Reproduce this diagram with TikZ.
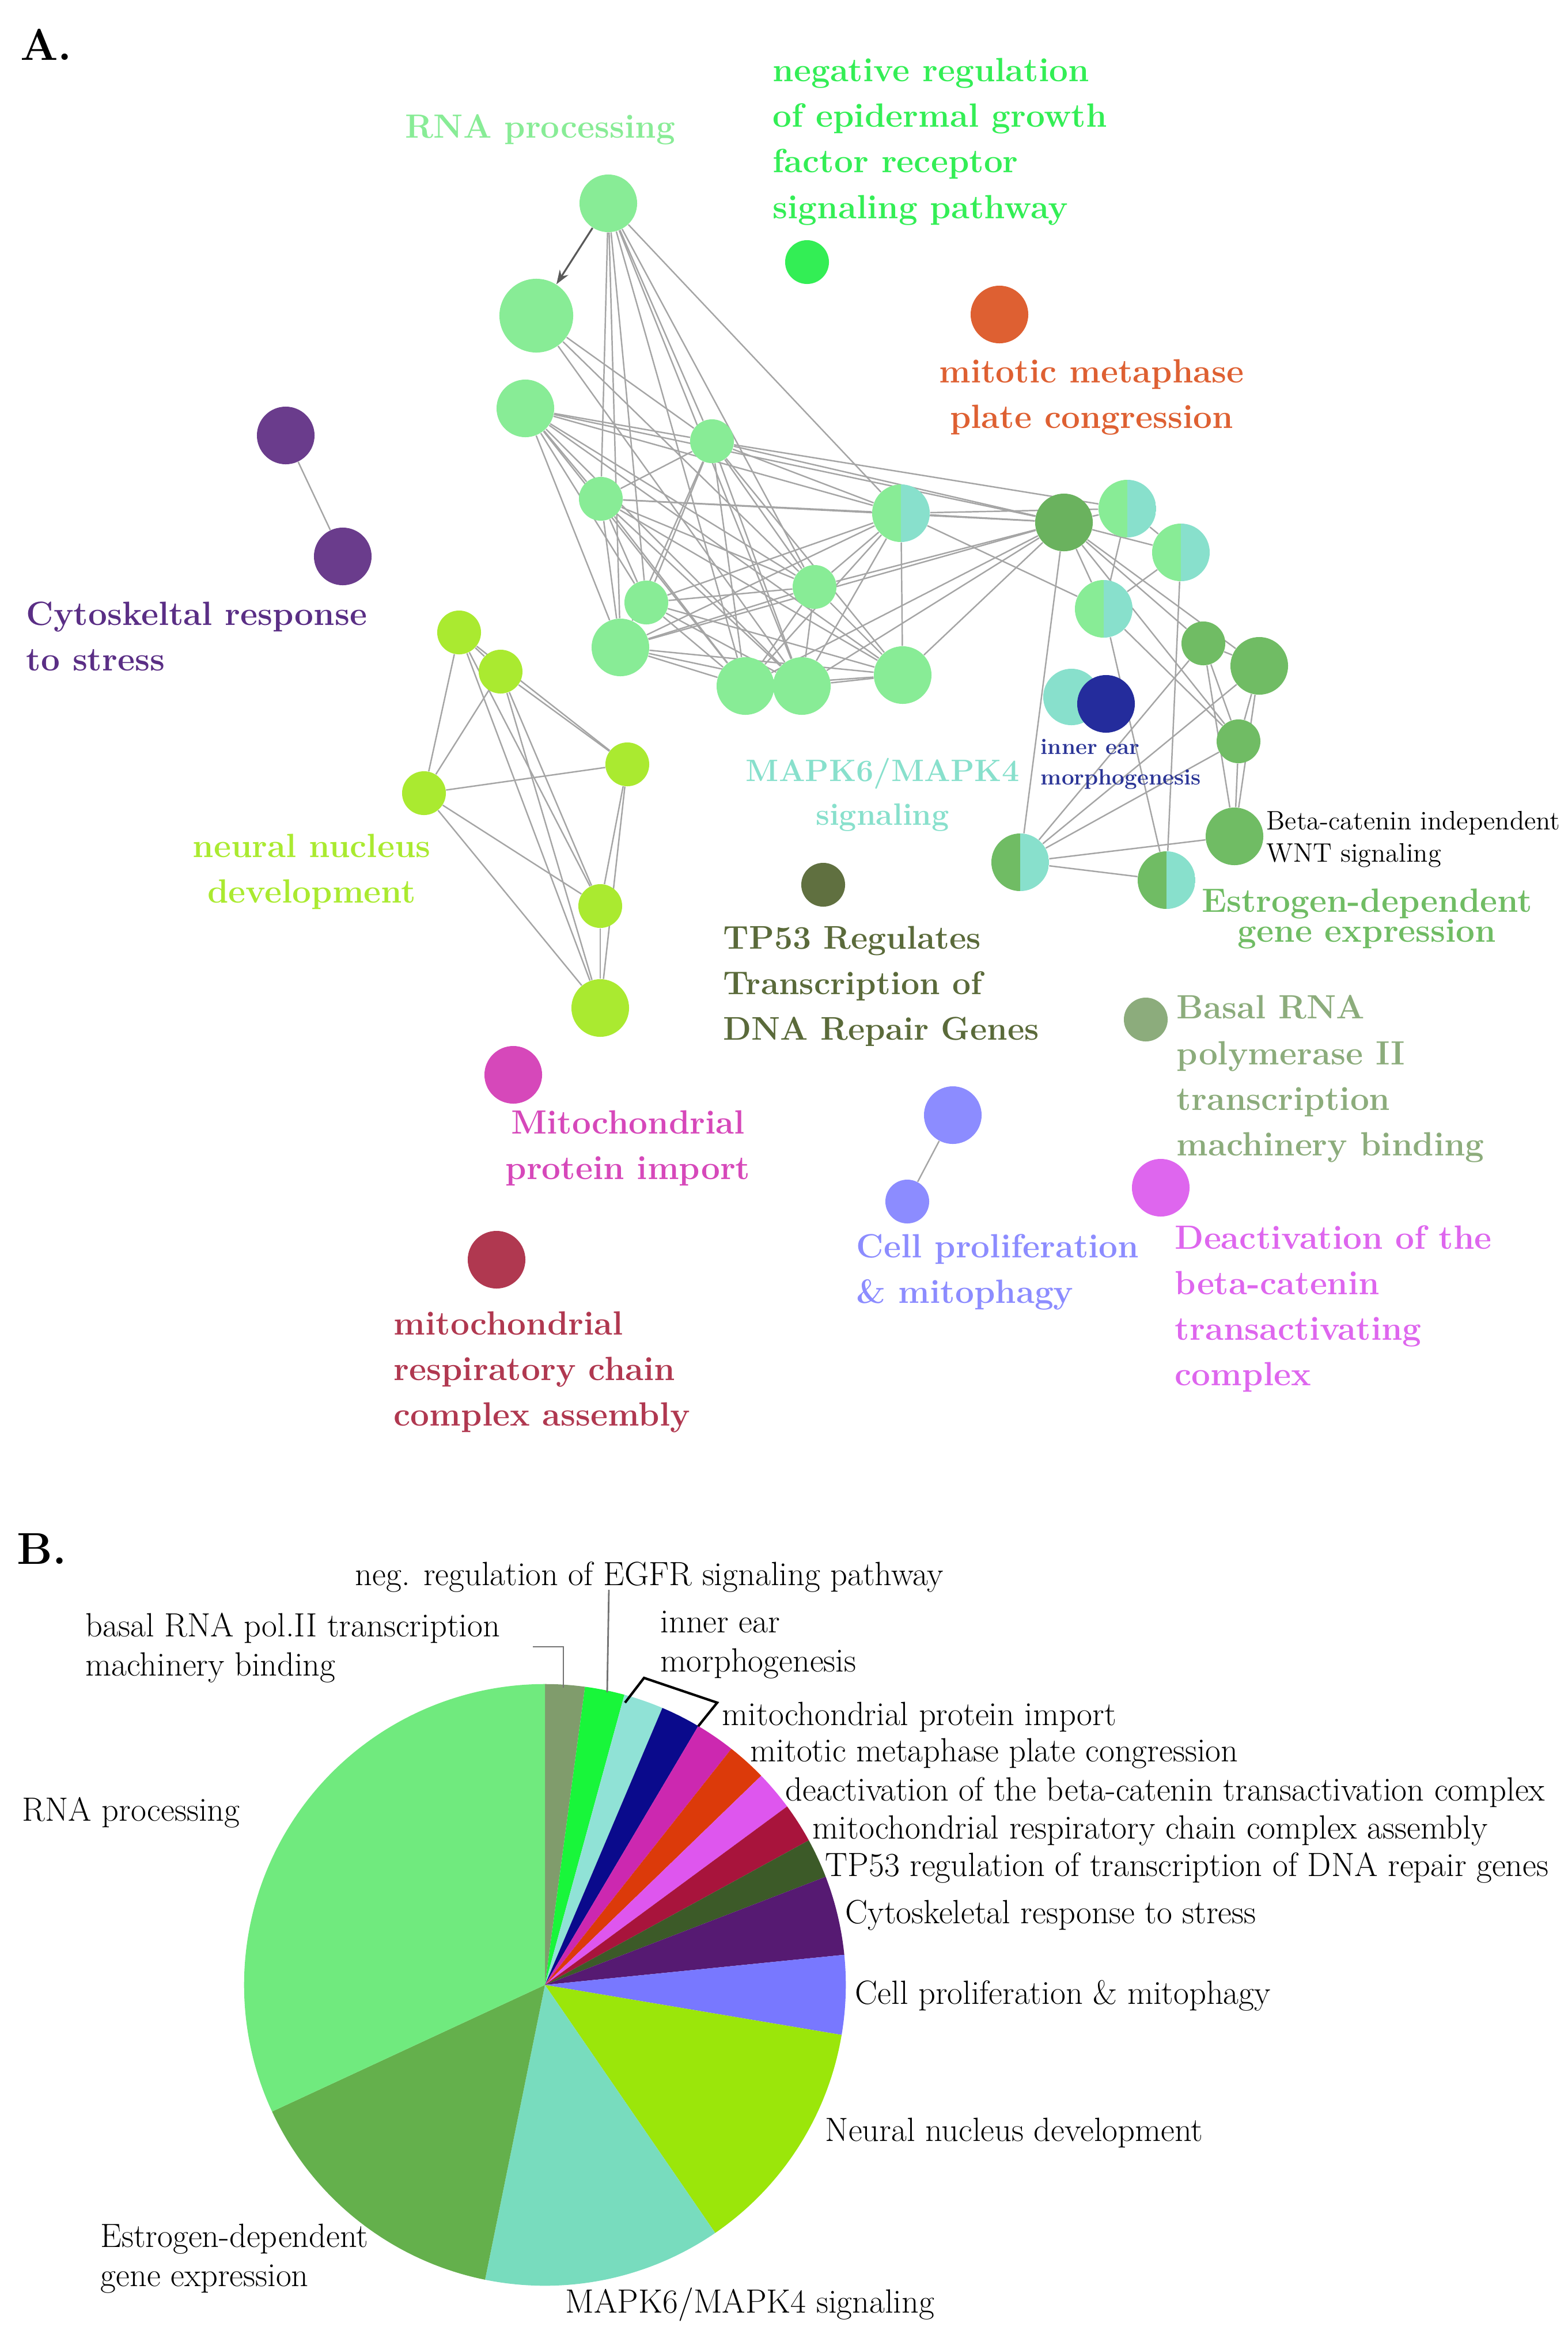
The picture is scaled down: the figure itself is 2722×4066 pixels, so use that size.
\documentclass[tikz,border=0pt]{standalone}
\usetikzlibrary{arrows.meta}
\usetikzlibrary{backgrounds}

\definecolor{rnacol}{RGB}{136,236,150}
\definecolor{tealcol}{RGB}{136,224,204}
\definecolor{estcol}{RGB}{112,188,100}
\definecolor{hubcol}{RGB}{106,178,94}
\definecolor{neurcol}{RGB}{170,234,48}
\definecolor{purpcol}{RGB}{106,60,140}
\definecolor{negcol}{RGB}{51,238,85}
\definecolor{mitocol}{RGB}{222,96,50}
\definecolor{tpcol}{RGB}{96,112,64}
\definecolor{basalcol}{RGB}{140,172,124}
\definecolor{cellcol}{RGB}{140,140,255}
\definecolor{deactcol}{RGB}{222,102,238}
\definecolor{mpcol}{RGB}{214,72,186}
\definecolor{mrcol}{RGB}{176,56,80}
\definecolor{earcol}{RGB}{36,44,156}
\definecolor{edgecol}{RGB}{165,165,165}
\definecolor{purptext}{RGB}{90,46,133}
\definecolor{tptext}{RGB}{90,106,58}
\definecolor{eartext}{RGB}{42,52,150}

\definecolor{piebasal}{RGB}{128,156,108}
\definecolor{pieneg}{RGB}{24,246,58}
\definecolor{pieear}{RGB}{144,226,214}
\definecolor{pienavy}{RGB}{10,10,140}
\definecolor{piemp}{RGB}{204,40,176}
\definecolor{piemito}{RGB}{220,58,10}
\definecolor{piedeact}{RGB}{222,86,238}
\definecolor{piemr}{RGB}{168,20,60}
\definecolor{pietp}{RGB}{60,90,40}
\definecolor{piecyto}{RGB}{86,26,114}
\definecolor{piecell}{RGB}{120,120,255}
\definecolor{pieneur}{RGB}{155,230,10}
\definecolor{piemapk}{RGB}{120,220,190}
\definecolor{pieest}{RGB}{100,176,76}
\definecolor{pierna}{RGB}{112,234,126}

\begin{document}
\begin{tikzpicture}[x=0.01cm, y=-0.01cm,
    dot/.style={circle, inner sep=0pt, fill=#1},
    big/.style={minimum size=1cm},
    small/.style={minimum size=0.76cm},
    split/.style 2 args={circle, inner sep=0pt, minimum size=1cm,
      path picture={\fill[#1] (path picture bounding box.south west) rectangle (path picture bounding box.north);
        \fill[#2] (path picture bounding box.north) rectangle (path picture bounding box.south east);}},
    go edge/.style={draw=edgecol, line width=0.7pt},
    lab/.style={font=\bfseries\fontsize{16.6}{22.5}\selectfont, inner sep=0pt},
    pie lab/.style={font=\fontsize{16.6}{19.3}\selectfont, inner sep=0pt, anchor=west, align=left}]

    \useasboundingbox (0,0) rectangle (2722,4066);

    % A. network
    \node[font=\bfseries\fontsize{22}{26}\selectfont] (titleA) at (80,77) {A.};

    % RNA processing cluster
    \node[dot=rnacol, big] (r1) at (1056,353) {};
    \node[dot=rnacol, minimum size=1.28cm] (r2) at (931,548) {};
    \node[dot=rnacol, big] (r3) at (912,709) {};
    \node[dot=rnacol, small] (r4) at (1236,766) {};
    \node[dot=rnacol, small] (r5) at (1043,866) {};
    \node[split={rnacol}{tealcol}] (r6) at (1564,891) {};
    \node[dot=rnacol, small] (r7) at (1122,1046) {};
    \node[dot=rnacol, small] (r8) at (1414,1019) {};
    \node[dot=rnacol, big] (r9) at (1077,1124) {};
    \node[dot=rnacol, big] (r10) at (1294,1191) {};
    \node[dot=rnacol, big] (r11) at (1392,1191) {};
    \node[dot=rnacol, big] (r12) at (1567,1172) {};

    % estrogen / MAPK cluster
    \node[dot=hubcol, big] (hub) at (1847,907) {};
    \node[split={rnacol}{tealcol}] (s2) at (1957,883) {};
    \node[split={rnacol}{tealcol}] (s3) at (2050,959) {};
    \node[split={rnacol}{tealcol}] (s4) at (1916,1057) {};
    \node[dot=estcol, small] (e1) at (2089,1117) {};
    \node[dot=estcol, big] (e2) at (2186,1156) {};
    \node[dot=estcol, small] (e3) at (2150,1287) {};
    \node[dot=estcol, big] (bw) at (2143,1452) {};
    \node[split={estcol}{tealcol}] (s5) at (1771,1497) {};
    \node[split={estcol}{tealcol}] (s6) at (2025,1528) {};
    \node[dot=tealcol, minimum size=0.98cm] (ie1) at (1860,1210) {};
    \node[dot=earcol, big] (ie2) at (1920,1222) {};

    % neural nucleus cluster
    \node[dot=neurcol, small] (n1) at (797,1098) {};
    \node[dot=neurcol, small] (n2) at (869,1166) {};
    \node[dot=neurcol, small] (n3) at (736,1377) {};
    \node[dot=neurcol, small] (n4) at (1089,1327) {};
    \node[dot=neurcol, small] (n5) at (1042,1573) {};
    \node[dot=neurcol, big] (n6) at (1042,1750) {};

    % single terms
    \node[dot=negcol, small] (neg) at (1401,455) {};
    \node[dot=mitocol, big] (mito) at (1735,546) {};
    \node[dot=purpcol, big] (p1) at (496,756) {};
    \node[dot=purpcol, big] (p2) at (595,966) {};
    \node[dot=tpcol, small] (tp) at (1429,1536) {};
    \node[dot=basalcol, small] (basal) at (1989,1770) {};
    \node[dot=cellcol, big] (cp1) at (1654,1936) {};
    \node[dot=cellcol, small] (cp2) at (1575,2086) {};
    \node[dot=deactcol, big] (deact) at (2015,2062) {};
    \node[dot=mpcol, big] (mp) at (891,1866) {};
    \node[dot=mrcol, big] (mr) at (862,2187) {};

    \begin{scope}[on background layer]
    \foreach \a/\b in {r1/r4, r1/r5, r1/r7, r1/r9, r1/r10, r1/r11, r1/r8, r1/r6,
        r2/r4, r2/r8, r2/r11,
        r3/r4, r3/r5, r3/r6, r3/r7, r3/r9, r3/r10, r3/r11, r3/r12, r3/r8, r3/hub,
        r4/r5, r4/r6, r4/r7, r4/r9, r4/r10, r4/r11, r4/r12, r4/r8, r4/hub, r4/s2,
        r5/r6, r5/r8, r5/r9, r5/r10, r5/r11, r5/r12, r5/hub, r5/r7,
        r7/r8, r7/r10, r7/r11, r7/r12, r7/r6,
        r8/r9, r8/r10, r8/r11, r8/r12, r8/r6, r8/hub,
        r9/r10, r9/r11, r9/r12, r9/r6, r9/hub,
        r10/r11, r10/r12, r10/hub, r10/r6,
        r11/r12, r11/hub, r11/r6, r12/r6, r12/hub,
        r6/hub, r6/s2, r6/s4,
        hub/s2, hub/s3, hub/s4, hub/e1, hub/e2, hub/e3, hub/s5,
        s2/s4, s2/s3, s3/s4, s3/s6, s4/s6, s4/e3,
        e1/e2, e1/e3, e1/bw, e1/s5, e2/e3, e2/bw, e2/s5, e3/bw, e3/s5,
        s5/s6, s5/bw,
        n1/n2, n1/n3, n2/n3, n1/n4, n2/n4, n3/n4, n3/n5, n3/n6,
        n1/n5, n1/n6, n2/n5, n2/n6, n4/n5, n4/n6, n5/n6,
        p1/p2, cp1/cp2}
      \draw[go edge] (\a) -- (\b);
    \end{scope}
    \draw[line width=0.9pt, black!65, -{Stealth[length=7pt, width=5pt]}] (r1) -- (r2);

    % network labels
    \node[lab, text=rnacol] (lRNA) at (938,225) {RNA processing};
    \node[lab, text=negcol, anchor=west, align=left] (lneg) at (1341,246)
      {negative regulation\\of epidermal growth\\factor receptor\\signaling pathway};
    \node[lab, text=mitocol, align=center] (lmito) at (1895,690) {mitotic metaphase\\plate congression};
    \node[lab, text=purptext, anchor=west, align=left] (lcyto) at (45,1105) {Cytoskeltal response\\to stress};
    \node[lab, text=neurcol, align=center] (lneur) at (541,1513) {neural nucleus\\development};
    \node[lab, text=tealcol, align=center, font=\bfseries\fontsize{15.3}{21.5}\selectfont] (lmapk) at (1532,1380)
      {MAPK6/MAPK4\\signaling};
    \node[lab, text=eartext, anchor=west, align=left, font=\bfseries\fontsize{11}{15}\selectfont] (lear) at (1806,1327)
      {inner ear\\morphogenesis};
    \node[anchor=west, align=left, inner sep=0pt, font=\fontsize{13.2}{16}\selectfont] (lbw) at (2198,1457)
      {Beta-catenin independent\\WNT signaling};
    \node[lab, text=estcol, align=center, font=\bfseries\fontsize{16.6}{15}\selectfont] (lest) at (2373,1595)
      {Estrogen-dependent\\gene expression};
    \node[lab, text=tptext, anchor=west, align=left, font=\bfseries\fontsize{16.2}{22.5}\selectfont] (ltp) at (1255,1712)
      {TP53 Regulates\\Transcription of\\DNA Repair Genes};
    \node[lab, text=basalcol, anchor=west, align=left] (lbasal) at (2042,1873)
      {Basal RNA\\polymerase II\\transcription\\machinery binding};
    \node[lab, text=mpcol, align=center] (lmp) at (1090,1993) {Mitochondrial\\protein import};
    \node[lab, text=cellcol, anchor=west, align=left] (lcell) at (1486,2208) {Cell proliferation\\\& mitophagy};
    \node[lab, text=deactcol, anchor=west, align=left] (ldeact) at (2039,2272)
      {Deactivation of the\\beta-catenin\\transactivating\\complex};
    \node[lab, text=mrcol, anchor=west, align=left] (lmr) at (683,2382)
      {mitochondrial\\respiratory chain\\complex assembly};

    % B. pie chart (counts out of 47)
    \node[font=\bfseries\fontsize{22}{26}\selectfont] (titleB) at (73,2689) {B.};
    \coordinate (pc) at (946,3446);
    \begin{scope}[shift={(pc)}, x=1cm, y=1cm]
      \foreach \a/\b/\c in {0/1/piebasal, 1/2/pieneg, 2/3/pieear, 3/4/pienavy, 4/5/piemp,
          5/6/piemito, 6/7/piedeact, 7/8/piemr, 8/9/pietp, 9/11/piecyto, 11/13/piecell,
          13/19/pieneur, 19/25/piemapk, 25/32/pieest, 32/47/pierna}
        \fill[\c] (0,0) -- ({90-\a/47*360}:5.22cm)
          arc[start angle={90-\a/47*360}, end angle={90-\b/47*360}, radius=5.22cm] -- cycle;
    \end{scope}

    \node[pie lab] (pneg) at (616,2738) {neg. regulation of EGFR signaling pathway};
    \node[pie lab] (pbasal) at (148,2861) {basal RNA pol.II transcription\\machinery binding};
    \node[pie lab] (pear) at (1146,2856) {inner ear\\morphogenesis};
    \node[pie lab] (pmp) at (1253,2981) {mitochondrial protein import};
    \node[pie lab] (pmito) at (1302,3044) {mitotic metaphase plate congression};
    \node[pie lab] (pdeact) at (1363,3112) {deactivation of the beta-catenin transactivation complex};
    \node[pie lab] (pmr) at (1410,3178) {mitochondrial respiratory chain complex assembly};
    \node[pie lab] (ptp) at (1432,3243) {TP53 regulation of transcription of DNA repair genes};
    \node[pie lab] (pcyto) at (1467,3325) {Cytoskeletal response to stress};
    \node[pie lab] (pcell) at (1484,3465) {Cell proliferation \& mitophagy};
    \node[pie lab] (pneur) at (1432,3703) {Neural nucleus development};
    \node[pie lab] (pmapk) at (981,4001) {MAPK6/MAPK4 signaling};
    \node[pie lab] (pest) at (174,3921) {Estrogen-dependent\\gene expression};
    \node[pie lab] (prna) at (38,3147) {RNA processing};

    % leaders
    \coordinate (bl1) at (925,2859);
    \coordinate (bl2) at (978,2859);
    \coordinate (bl3) at (978,2930);
    \coordinate (ng1) at (1057,2760);
    \coordinate (ng2) at (1054,2938);
    \coordinate (br1) at (1085,2956);
    \coordinate (br2) at (1118,2913);
    \coordinate (br3) at (1245,2956);
    \coordinate (br4) at (1212,2997);
    \draw[black!55, line width=0.8pt] (bl1) -- (bl2) -- (bl3);
    \draw[black!55, line width=0.8pt] (ng1) -- (ng2);
    \draw[black, line width=1.2pt] (br1) -- (br2) -- (br3) -- (br4);

\end{tikzpicture}
\end{document}
